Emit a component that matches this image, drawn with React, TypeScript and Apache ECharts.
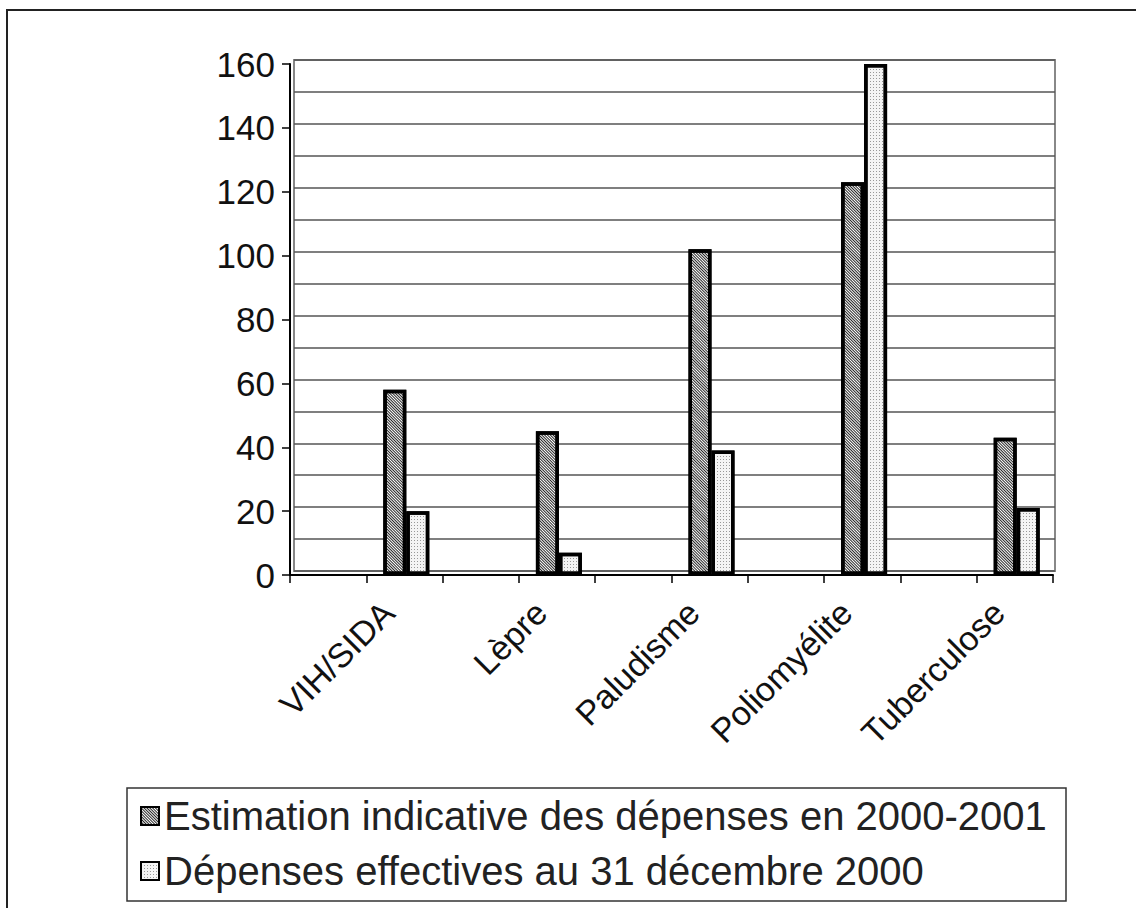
import React, { useEffect, useRef } from "react";
import * as echarts from "echarts";

const categories = ["VIH/SIDA", "Lèpre", "Paludisme", "Poliomyélite", "Tuberculose"];
const seriesNames = [
  "Estimation indicative des dépenses en 2000-2001",
  "Dépenses effectives au 31 décembre 2000",
];
const estimation = [58, 45, 102, 123, 43];
const effectives = [20, 7, 39, 160, 21];
const tickSlots = ["", "", "", "", "", "", "", "", "", ""];

const FONT = "'Liberation Sans', Arial, sans-serif";
const NARROW = "'Liberation Sans Narrow', 'Arial Narrow', 'Liberation Sans', sans-serif";

export default function App() {
  const ref = useRef<HTMLDivElement>(null);
  useEffect(() => {
    if (!ref.current) return;
    const chart = echarts.init(ref.current, undefined, { renderer: "svg" });
    const yBase = { type: "value", min: 0, max: 160, interval: 20 };
    const darkDecal = {
      symbol: "rect",
      symbolSize: 1,
      color: "rgba(0,0,0,0.85)",
      dashArrayX: [1, 0],
      dashArrayY: [1, 1],
      rotation: Math.PI / 4,
    };
    const lightDecal = {
      symbol: "rect",
      symbolSize: 1,
      color: "rgba(90,90,90,0.6)",
      dashArrayX: [1, 1.5],
      dashArrayY: [1, 1.5],
      rotation: 0,
    };
    chart.setOption({
      animation: false,
      backgroundColor: "#ffffff",
      grid: [
        { left: 294, top: 60, width: 761, height: 511, show: true, borderColor: "#888", borderWidth: 2, backgroundColor: "transparent" },
        { left: 290, top: 64, width: 763, height: 511 },
        { left: 330, top: 64, width: 763, height: 511 },
        { left: 312, top: 64, width: 763, height: 511 },
      ],
      xAxis: [
        { type: "category", gridIndex: 0, data: categories, show: false },
        {
          type: "category",
          gridIndex: 1,
          data: tickSlots,
          axisLine: { show: true, lineStyle: { color: "#000", width: 2 } },
          axisTick: { show: true, length: 8, lineStyle: { color: "#000", width: 1.5 } },
          axisLabel: { show: false },
          splitLine: { show: false },
        },
        { type: "category", gridIndex: 2, data: categories, show: false },
        {
          type: "category",
          gridIndex: 3,
          data: categories,
          axisLine: { show: false },
          axisTick: { show: false },
          axisLabel: { show: true, rotate: 45, margin: 32, fontSize: 34, color: "#111", fontFamily: FONT },
        },
      ],
      yAxis: [
        {
          ...yBase,
          gridIndex: 0,
          axisLine: { show: false },
          axisTick: { show: false },
          axisLabel: { show: false },
          splitLine: { show: true, lineStyle: { color: "#555", width: 1.5 } },
          minorTick: { show: false, splitNumber: 2 },
          minorSplitLine: { show: true, lineStyle: { color: "#555", width: 1.5 } },
        },
        {
          ...yBase,
          gridIndex: 1,
          axisLine: { show: true, lineStyle: { color: "#000", width: 2 } },
          axisTick: { show: true, length: 8, lineStyle: { color: "#000", width: 1.5 } },
          axisLabel: { show: true, fontSize: 35, color: "#111", fontFamily: NARROW, margin: 15 },
          splitLine: { show: false },
        },
        { ...yBase, gridIndex: 2, show: false, splitLine: { show: false } },
        { ...yBase, gridIndex: 3, show: false, splitLine: { show: false } },
      ],
      legend: {
        orient: "vertical",
        left: 140,
        top: 794,
        padding: 0,
        itemWidth: 18,
        itemHeight: 18,
        itemGap: 11,
        icon: "rect",
        data: seriesNames,
        textStyle: { fontSize: 40, color: "#222", fontFamily: FONT, lineHeight: 44 },
      },
      graphic: [
        { type: "rect", shape: { x: 7, y: 10, width: 1140, height: 920 }, style: { fill: "none", stroke: "#222", lineWidth: 2 }, silent: true },
        { type: "rect", shape: { x: 127, y: 788, width: 939, height: 113 }, style: { fill: "none", stroke: "#333", lineWidth: 1.5 }, silent: true },
      ],
      series: [
        {
          name: seriesNames[0],
          type: "bar",
          xAxisIndex: 2,
          yAxisIndex: 2,
          data: estimation,
          barWidth: 23,
          barGap: "0%",
          itemStyle: { color: "#ffffff", borderColor: "#000", borderWidth: 3.5, decal: darkDecal },
        },
        {
          name: seriesNames[1],
          type: "bar",
          xAxisIndex: 2,
          yAxisIndex: 2,
          data: effectives,
          barWidth: 23,
          barGap: "0%",
          itemStyle: { color: "#f4f4f4", borderColor: "#000", borderWidth: 3.5, decal: lightDecal },
        },
      ],
    });
    return () => chart.dispose();
  }, []);
  return (
    <div
      ref={ref}
      style={{ position: "fixed", left: 0, top: 0, width: 1136, height: 908 }}
    />
  );
}
